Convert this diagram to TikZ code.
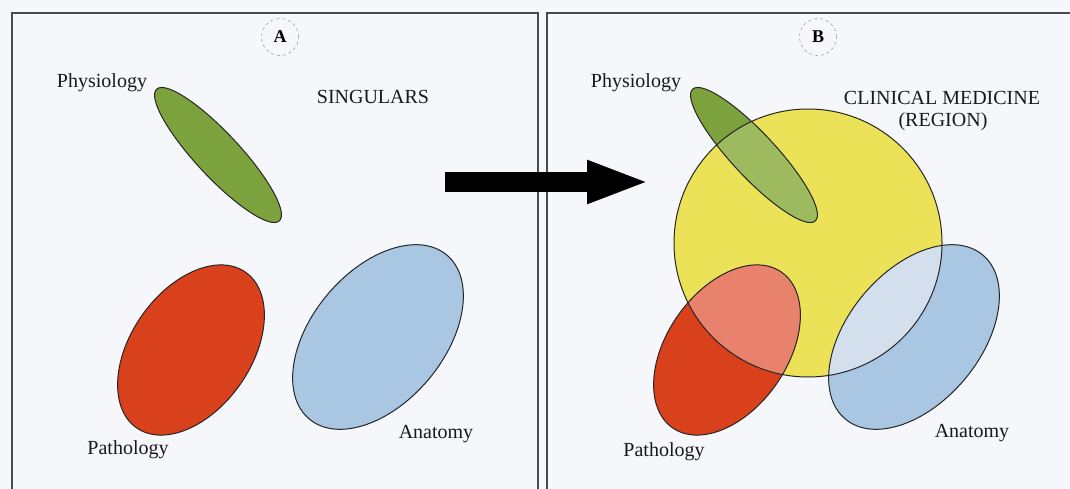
\documentclass[tikz,border=0pt]{standalone}
\usepackage{fontspec}
\setmainfont{Liberation Serif}
\usetikzlibrary{arrows.meta}

\definecolor{paper}{HTML}{F6F7FB}
\definecolor{framegray}{HTML}{4A4A4A}
\definecolor{physgreen}{HTML}{7BA23C}
\definecolor{physlight}{HTML}{9DBA5E}
\definecolor{pathred}{HTML}{D9401C}
\definecolor{pathlight}{HTML}{E8826C}
\definecolor{anatblue}{HTML}{A9C7E3}
\definecolor{anatlight}{HTML}{D3DFEC}
\definecolor{regionyellow}{HTML}{ECE258}

\begin{document}
\begin{tikzpicture}[x=1pt, y=-1pt,
    txt/.style={font=\fontsize{20}{24}\selectfont, text=black!90, inner sep=0pt},
    frame/.style={draw=framegray, line width=2pt},
    outline/.style={draw=black!85, line width=1pt},
    tag/.style={circle, draw=gray, dashed, minimum size=37pt, inner sep=0pt,
        font=\fontsize{18}{20}\selectfont\bfseries},
    bigarrow/.style={line width=20pt, -{Triangle[length=63pt, width=39pt]}},
    physio/.style={shift={(218,155)}, rotate=-47},
    patho/.style={shift={(191,350)}, rotate=55},
    anato/.style={shift={(378,337)}, rotate=50},
    region/.style={shift={(272,243)}}]
    \useasboundingbox (0,0) rectangle (1070,489);
    \clip (0,0) rectangle (1070,489);
    \fill[paper] (0,0) rectangle (1070,489);

    % the two panels
    \draw[frame] (12,13) rectangle (538,520);
    \draw[frame] (547,13) rectangle (1100,520);

    % panel A: singulars
    \fill[physgreen, physio] (0,0) ellipse[x radius=90, y radius=22];
    \fill[pathred, patho] (0,0) ellipse[x radius=95, y radius=60];
    \fill[anatblue, anato] (0,0) ellipse[x radius=107, y radius=66];
    \draw[outline, physio] (0,0) ellipse[x radius=90, y radius=22];
    \draw[outline, patho] (0,0) ellipse[x radius=95, y radius=60];
    \draw[outline, anato] (0,0) ellipse[x radius=107, y radius=66];

    \node[tag] (tagA) at (280,37) {A};
    \node[txt] (physA) at (102,83) {Physiology};
    \node[txt] (singulars) at (373,97) {SINGULARS};
    \node[txt] (pathA) at (128,450) {Pathology};
    \node[txt] (anatA) at (436,434) {Anatomy};

    % panel B: the region
    \begin{scope}[xshift=536]
        \fill[regionyellow, region] (0,0) circle[radius=134];
        \fill[physgreen, physio] (0,0) ellipse[x radius=90, y radius=22];
        \fill[pathred, patho] (0,0) ellipse[x radius=95, y radius=60];
        \fill[anatblue, anato] (0,0) ellipse[x radius=107, y radius=66];
        \begin{scope}
            \clip[region] (0,0) circle[radius=134];
            \fill[physlight, physio] (0,0) ellipse[x radius=90, y radius=22];
            \fill[pathlight, patho] (0,0) ellipse[x radius=95, y radius=60];
            \fill[anatlight, anato] (0,0) ellipse[x radius=107, y radius=66];
        \end{scope}
        \draw[outline, region] (0,0) circle[radius=134];
        \draw[outline, physio] (0,0) ellipse[x radius=90, y radius=22];
        \draw[outline, patho] (0,0) ellipse[x radius=95, y radius=60];
        \draw[outline, anato] (0,0) ellipse[x radius=107, y radius=66];
    \end{scope}

    \node[tag] (tagB) at (818,37) {B};
    \node[txt] (physB) at (636,83) {Physiology};
    \node[txt] (clinical) at (942,98) {CLINICAL MEDICINE};
    \node[txt] (regionlbl) at (943,122) {(REGION)};
    \node[txt] (pathB) at (664,452) {Pathology};
    \node[txt] (anatB) at (972,433) {Anatomy};

    % from A to B
    \coordinate (from) at (445,182);
    \coordinate (to) at (650,182);
    \draw[bigarrow] (from) -- (to);
\end{tikzpicture}
\end{document}
